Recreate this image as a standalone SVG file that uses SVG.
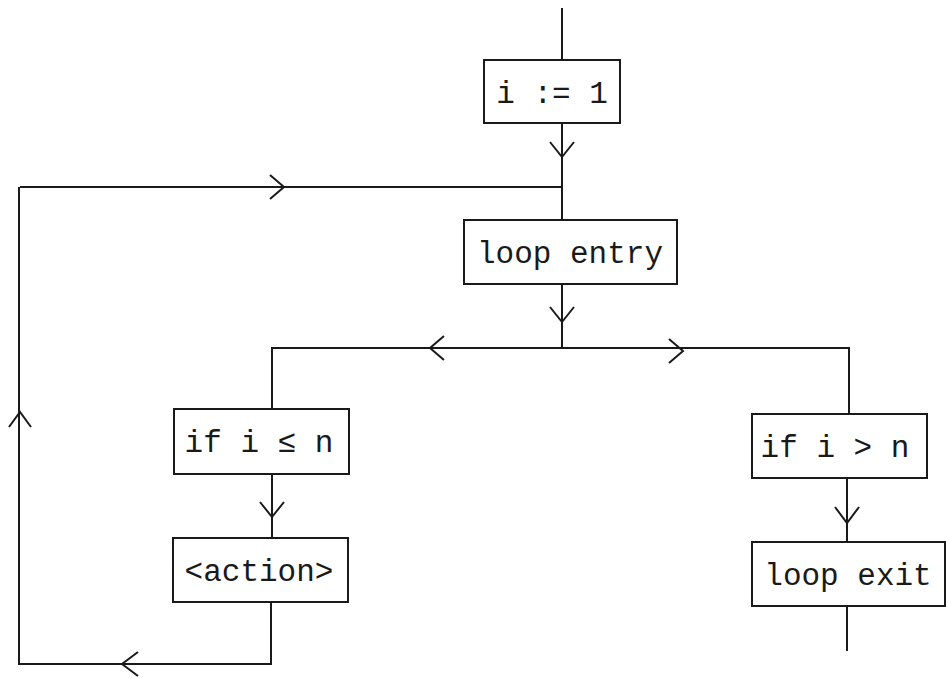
<svg xmlns="http://www.w3.org/2000/svg" width="946" height="678" viewBox="0 0 946 678">
  <style>
    .box { fill: #ffffff; stroke: #1a1a1a; stroke-width: 2; }
    .line { fill: none; stroke: #1a1a1a; stroke-width: 2; }
    .head { fill: none; stroke: #1a1a1a; stroke-width: 2; stroke-linejoin: miter; }
    .label { font-family: "Liberation Mono", "Courier New", monospace; font-size: 31px; fill: #1a1a1a; text-anchor: middle; }
  </style>
  <rect width="946" height="678" fill="#ffffff"/>

  <g id="connectors">
    <!-- entry into the initialisation -->
    <path class="line" d="M562 8 V60"/>
    <!-- initialisation to loop entry -->
    <path class="line" d="M562 123 V220"/>
    <path class="head" d="M550 142 L562 157 L574 142"/>
    <!-- back edge joining above loop entry -->
    <path class="line" d="M20 187 H562"/>
    <path class="head" d="M270 175 L284 187 L270 199"/>
    <!-- loop entry split -->
    <path class="line" d="M562 284 V348"/>
    <path class="head" d="M550 307 L562 322 L574 307"/>
    <path class="line" d="M272 409 V348 H849 V414"/>
    <path class="head" d="M444 336 L430 348 L444 360"/>
    <path class="head" d="M669 339 L683 351 L669 363"/>
    <!-- true branch -->
    <path class="line" d="M272 474 V538"/>
    <path class="head" d="M260 502 L272 517 L284 502"/>
    <!-- action back to loop entry -->
    <path class="line" d="M271 602 V664 H19 V187"/>
    <path class="head" d="M138 652 L122 664 L138 676"/>
    <path class="head" d="M9 427 L20 412 L31 427"/>
    <!-- false branch -->
    <path class="line" d="M847 478 V542"/>
    <path class="head" d="M835 507 L847 523 L859 507"/>
    <path class="line" d="M847 606 V651"/>
  </g>

  <g id="init">
    <rect class="box" x="484" y="60" width="136" height="63"/>
    <text class="label" x="552" y="103">i := 1</text>
  </g>

  <g id="loop-entry">
    <rect class="box" x="464" y="220" width="213" height="64"/>
    <text class="label" x="570" y="263">loop entry</text>
  </g>

  <g id="cond-true">
    <rect class="box" x="174" y="409" width="175" height="65"/>
    <text class="label" x="259" y="452">if i ≤ n</text>
  </g>

  <g id="action">
    <rect class="box" x="173" y="538" width="175" height="64"/>
    <text class="label" x="259" y="581">&lt;action&gt;</text>
  </g>

  <g id="cond-false">
    <rect class="box" x="752" y="414" width="175" height="64"/>
    <text class="label" x="835" y="457">if i &gt; n</text>
  </g>

  <g id="loop-exit">
    <rect class="box" x="752" y="542" width="193" height="64"/>
    <text class="label" x="848" y="585">loop exit</text>
  </g>
</svg>
